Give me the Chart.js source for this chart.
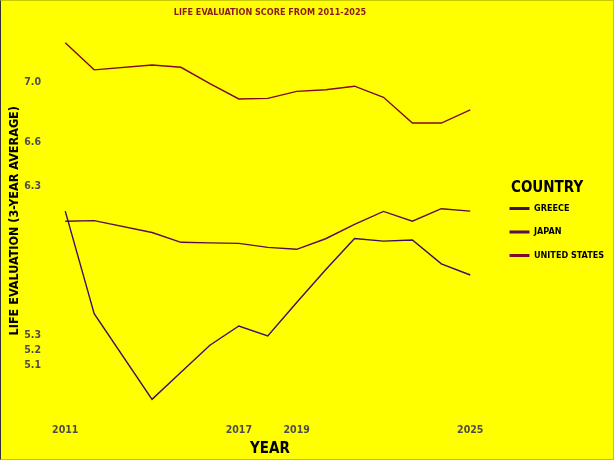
<!DOCTYPE html>
<html>
<head>
<meta charset="utf-8">
<script src="https://cdn.jsdelivr.net/npm/chart.js@4.4.1/dist/chart.umd.min.js"></script>
<style>
  html, body { margin: 0; padding: 0; background: #ffff00; overflow: hidden; }
  #wrap { position: relative; width: 614px; height: 460px; }
  #frame { position: absolute; left: 0; top: 0; width: 614px; height: 460px; box-sizing: border-box;
           border-left: 1px solid #333333; border-top: 1px solid #c8c800; border-right: 1px solid #c8c800; border-bottom: 1px solid #c8c800; pointer-events: none; }
</style>
</head>
<body>
<div id="wrap">
  <canvas id="c" width="614" height="460"></canvas>
  <div id="frame"></div>
</div>
<script>
const years = [2011, 2012, 2014, 2015, 2016, 2017, 2018, 2019, 2020, 2021, 2022, 2023, 2024, 2025];
const greece = [6.135, 5.445, 4.869, 5.051, 5.233, 5.362, 5.295, 5.52, 5.74, 5.951, 5.933, 5.94, 5.78, 5.705];
const japan = [6.067, 6.071, 5.991, 5.925, 5.921, 5.918, 5.891, 5.878, 5.949, 6.045, 6.133, 6.067, 6.151, 6.135];
const unitedStates = [7.267, 7.085, 7.118, 7.102, 6.993, 6.889, 6.893, 6.94, 6.951, 6.975, 6.9, 6.727, 6.727, 6.815];
const countries = ['GREECE', 'JAPAN', 'UNITED STATES'];
const xTickValues = [2011, 2017, 2019, 2025];
const yTickValues = [7.0, 6.6, 6.3, 5.3, 5.2, 5.1];

const FONT = '"DejaVu Sans Condensed", "DejaVu Sans", sans-serif';
const colors = ['#3b0f62', '#5a0c4c', '#7d0a25'];
const seriesValues = [greece, japan, unitedStates];

const datasets = countries.map((name, i) => ({
  label: name,
  data: years.map((y, j) => ({ x: y, y: seriesValues[i][j] })),
  borderColor: colors[i],
  backgroundColor: colors[i],
  borderWidth: 1.4,
  pointRadius: 0,
  pointHoverRadius: 0,
  tension: 0,
  fill: false
}));

const legendTweak = {
  id: 'legendTweak',
  afterInit(chart) {
    const lg = chart.legend;
    if (!lg) return;
    const origFit = lg.fit.bind(lg);
    lg.fit = function () { origFit(); this.width = 119; };
    const name = ['_drawTitle', 'drawTitle'].find(n => typeof lg[n] === 'function');
    if (name) {
      const origTitle = lg[name].bind(lg);
      lg[name] = function () {
        const l = this.left;
        this.left = l + 16;
        origTitle();
        this.left = l;
      };
    }
  }
};

new Chart(document.getElementById('c'), {
  type: 'line',
  data: { datasets },
  plugins: [legendTweak],
  options: {
    responsive: false,
    animation: false,
    layout: { padding: { left: 0, right: 0, top: 0, bottom: 0 } },
    plugins: {
      tooltip: { enabled: false },
      title: {
        display: true,
        fullSize: false,
        text: 'LIFE EVALUATION SCORE FROM 2011-2025',
        color: '#8b1a1a',
        font: { family: FONT, size: 9, weight: 'bold' },
        padding: { top: 7, bottom: 5.2 }
      },
      legend: {
        position: 'right',
        align: 'center',
        title: {
          display: true,
          text: 'COUNTRY',
          color: '#000000',
          position: 'start',
          font: { family: FONT, size: 15, weight: 'bold' },
          padding: { top: -5, bottom: -9 }
        },
        labels: {
          usePointStyle: true,
          pointStyle: 'line',
          pointStyleWidth: 20,
          boxWidth: 20,
          boxHeight: 9,
          padding: 14.5,
          color: '#000000',
          font: { family: FONT, size: 9, weight: 'bold' },
          generateLabels(chart) {
            const items = Chart.defaults.plugins.legend.labels.generateLabels(chart);
            items.forEach(it => { it.lineWidth = 3; it.fillStyle = it.strokeStyle; });
            return items;
          }
        }
      }
    },
    scales: {
      x: {
        type: 'linear',
        min: 2010.3,
        max: 2025.855,
        grid: { display: false, drawTicks: false },
        border: { display: false },
        afterBuildTicks(scale) { scale.ticks = xTickValues.map(v => ({ value: v })); },
        afterFit(scale) { scale.height = 41.5; },
        ticks: {
          color: '#4d4d4d',
          padding: 5,
          font: { family: FONT, size: 10.5, weight: 'bold' },
          callback: v => String(v)
        },
        title: {
          display: true,
          text: 'YEAR',
          color: '#000000',
          font: { family: FONT, size: 15, weight: 'bold' },
          padding: { top: 2, bottom: 2 }
        }
      },
      y: {
        type: 'linear',
        min: 4.74,
        max: 7.40,
        grid: { display: false, drawTicks: false },
        border: { display: false },
        afterBuildTicks(scale) { scale.ticks = yTickValues.map(v => ({ value: v })); },
        afterFit(scale) { scale.width = 45; },
        ticks: {
          color: '#4d4d4d',
          padding: 4,
          font: { family: FONT, size: 10.5, weight: 'bold' },
          callback: v => Number(v).toFixed(1)
        },
        title: {
          display: true,
          text: 'LIFE EVALUATION (3-YEAR AVERAGE)',
          color: '#000000',
          font: { family: FONT, size: 12.5, weight: 'bold' },
          padding: { top: 7, bottom: 0 }
        }
      }
    }
  }
});
</script>
</body>
</html>
